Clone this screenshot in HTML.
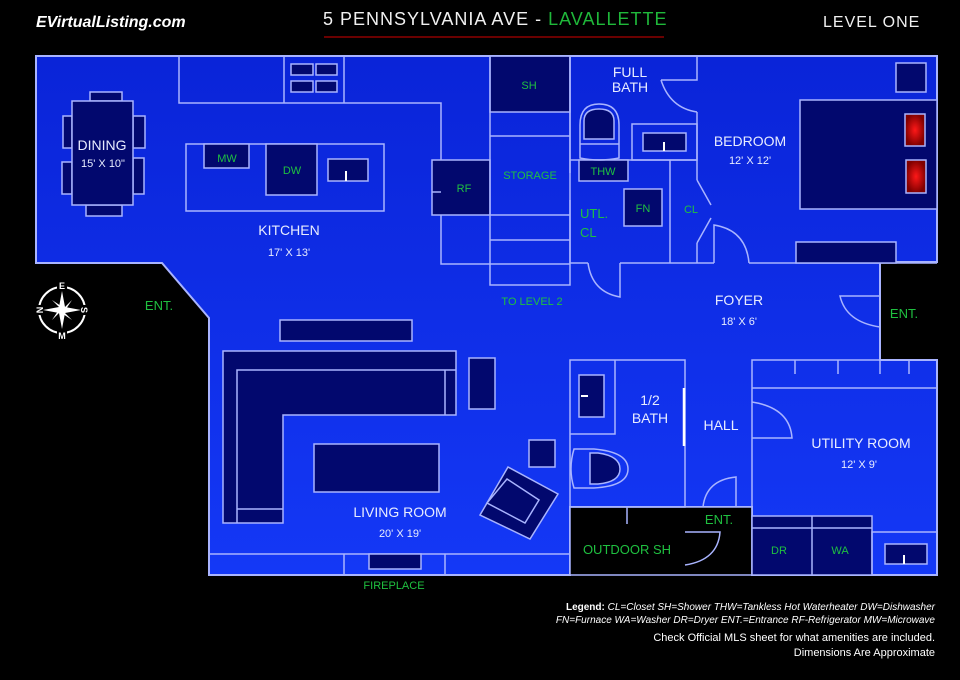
<!DOCTYPE html>
<html><head><meta charset="utf-8"><style>
html,body{margin:0;padding:0;background:#000;}
svg{display:block;}
text{font-family:"Liberation Sans",sans-serif;}
.w{fill:#e8ecff;font-size:14px;}
.ws{fill:#e8ecff;font-size:11px;}
.g{fill:#1fc040;font-size:13px;}
.gs{fill:#1fc040;font-size:11px;}
</style></head><body>
<svg width="960" height="680" viewBox="0 0 960 680" xmlns="http://www.w3.org/2000/svg">
<defs>
<linearGradient id="bg" x1="0" y1="0" x2="0" y2="1">
<stop offset="0" stop-color="#0a24d8"/><stop offset="1" stop-color="#1438f6"/>
</linearGradient>
<radialGradient id="red"><stop offset="0" stop-color="#ff1818"/><stop offset="1" stop-color="#800000"/></radialGradient>
</defs>
<rect width="960" height="680" fill="#000"/>
<!-- header -->
<text x="36" y="27" fill="#fff" font-size="16" font-weight="bold" font-style="italic">EVirtualListing.com</text>
<text x="323" y="25" fill="#f0f0f0" font-size="18" letter-spacing="1">5 PENNSYLVANIA AVE - <tspan fill="#1fb83a">LAVALLETTE</tspan></text>
<line x1="324" y1="37" x2="664" y2="37" stroke="#6a0000" stroke-width="2"/>
<text x="823" y="27" fill="#f0f0f0" font-size="16" letter-spacing="1">LEVEL ONE</text>

<!-- floor -->
<path d="M36,56 H937 V262 H880 V360 H937 V575 H752 V507 H570 V575 H209 V318 L162,263 H36 Z" fill="url(#bg)" stroke="#a9b4ff" stroke-width="2"/>
<rect x="570" y="507" width="182" height="68" fill="#000" stroke="#a9b4ff" stroke-width="1.5"/>

<g stroke="#a9b4ff" stroke-width="1.5" fill="none">
<path d="M179,56 V103 H441 V264 H490"/>
<line x1="284" y1="56" x2="284" y2="103"/><line x1="344" y1="56" x2="344" y2="103"/>
<g fill="#02086e">
<rect x="291" y="64" width="22" height="11"/><rect x="316" y="64" width="21" height="11"/>
<rect x="291" y="81" width="22" height="11"/><rect x="316" y="81" width="21" height="11"/>
<rect x="90" y="92" width="32" height="9"/><rect x="86" y="205" width="36" height="11"/>
<rect x="63" y="116" width="9" height="32"/><rect x="62" y="162" width="10" height="32"/>
<rect x="133" y="116" width="12" height="32"/><rect x="133" y="158" width="11" height="36"/>
<rect x="72" y="101" width="61" height="104"/>
</g>
<rect x="186" y="144" width="198" height="67"/>
<g fill="#02086e">
<rect x="204" y="144" width="45" height="24"/>
<rect x="266" y="144" width="51" height="51"/>
<rect x="328" y="159" width="40" height="22"/>
<rect x="432" y="160" width="58" height="55"/>
<rect x="490" y="56" width="80" height="56"/>
</g>
<rect x="490" y="56" width="80" height="229"/>
<line x1="490" y1="136" x2="570" y2="136"/><line x1="490" y1="215" x2="570" y2="215"/>
<line x1="490" y1="240" x2="570" y2="240"/><line x1="490" y1="264" x2="570" y2="264"/>
<line x1="432" y1="192" x2="441" y2="192"/>
<path d="M570,56 V173 M570,200 V263 H588 M620,263 H714 M749,263 H937"/>
<path d="M697,56 V80 H661 M697,112 V180 M697,243 V263"/>
<path d="M661,80 Q670,108 697,112"/>
<path d="M697,180 L711,205 M697,243 L711,218"/>
<path d="M570,160 H697"/>
<line x1="670" y1="160" x2="670" y2="263"/>
<rect x="632" y="124" width="65" height="36"/>
<rect x="643" y="133" width="43" height="18" fill="#02086e"/>
<rect x="579" y="160" width="49" height="21" fill="#02086e"/>
<rect x="624" y="189" width="38" height="37" fill="#02086e"/>
<path d="M580,158 V125 Q580,104 599,104 Q619,104 619,125 V158 Q599,162 580,158 Z"/>
<path d="M584,139 V121 Q584,109 599,109 Q614,109 614,121 V139 Z" fill="#02086e"/>
<line x1="580" y1="144" x2="619" y2="144"/>
<path d="M620,263 V297 Q592,292 588,263"/>
<path d="M714,263 V225 Q746,230 749,263"/>
<path d="M880,296 H840 Q846,322 880,327"/>
<rect x="896" y="63" width="30" height="29" fill="#02086e"/>
<rect x="800" y="100" width="137" height="109" fill="#02086e"/>
<rect x="796" y="242" width="100" height="21" fill="#02086e"/>
<rect x="905" y="114" width="20" height="32" fill="url(#red)"/>
<rect x="906" y="160" width="20" height="33" fill="url(#red)"/>
<rect x="280" y="320" width="132" height="21" fill="#02086e"/>
<path d="M223,351 H456 V415 H283 V523 H223 Z" fill="#02086e"/>
<path d="M456,370 H237 V523 M237,509 H283 M445,370 V415"/>
<rect x="469" y="358" width="26" height="51" fill="#02086e"/>
<rect x="314" y="444" width="125" height="48" fill="#02086e"/>
<rect x="529" y="440" width="26" height="27" fill="#02086e"/>
<path d="M480,515 L508,467 L558,494 L530,539 Z" fill="#02086e"/>
<path d="M487,503 L507,479 L539,500 L525,523 Z"/>
<path d="M209,554 H570 M344,554 V575 M445,554 V575"/>
<rect x="369" y="554" width="52" height="15" fill="#02086e"/>
<rect x="570" y="360" width="115" height="147"/>
<path d="M570,434 H615 V360"/>
<rect x="579" y="375" width="25" height="42" fill="#02086e"/>
<path d="M574,449 H594 Q628,452 628,469 Q628,486 594,488 H574 Q568,469 574,449 Z"/>
<path d="M590,453 H598 Q620,456 620,469 Q620,482 598,484 H590 Z" fill="#02086e"/>
<line x1="627" y1="507" x2="627" y2="524"/>
<path d="M703,507 Q706,480 736,477 V507"/>
<path d="M685,532 H720 Q718,560 685,565"/>
<rect x="752" y="360" width="185" height="215"/>
<line x1="752" y1="388" x2="937" y2="388"/>
<path d="M795,360 V374 M838,360 V374 M880,360 V374 M909,360 V374"/>
<path d="M752,402 Q790,408 792,438 H752"/>
<rect x="752" y="516" width="120" height="59" fill="#02086e"/>
<line x1="752" y1="528" x2="872" y2="528"/><line x1="812" y1="516" x2="812" y2="575"/>
<rect x="872" y="532" width="65" height="43"/>
<rect x="885" y="544" width="42" height="20" fill="#02086e"/>
</g>
<g stroke="#fff" stroke-width="2">
<line x1="346" y1="171" x2="346" y2="181"/><line x1="664" y1="142" x2="664" y2="151"/>
<line x1="581" y1="396" x2="588" y2="396"/><line x1="684" y1="388" x2="684" y2="446" stroke-width="2.5"/>
<line x1="904" y1="555" x2="904" y2="564"/>
</g>

<!-- compass -->
<g transform="translate(62,310)" fill="#fff">
<circle r="23" fill="none" stroke="#fff" stroke-width="2"/>
<path d="M0,-19 L3,-3 L19,0 L3,3 L0,19 L-3,3 L-19,0 L-3,-3 Z"/>
<path d="M-10,-10 L2,-2 L10,-10 L2,2 L10,10 L-2,2 L-10,10 L-2,-2 Z"/>
<rect x="-5" y="-30" width="10" height="9" fill="#000"/>
<rect x="-5" y="21" width="10" height="9" fill="#000"/>
<rect x="-30" y="-5" width="9" height="10" fill="#000"/>
<rect x="21" y="-5" width="9" height="10" fill="#000"/>
<text x="0" y="-21" font-size="9" font-weight="bold" text-anchor="middle" fill="#fff">E</text>
<text x="0" y="29" font-size="9" font-weight="bold" text-anchor="middle" fill="#fff">M</text>
<text transform="translate(-22,0) rotate(-90)" x="0" y="3" font-size="9" font-weight="bold" text-anchor="middle" fill="#fff">N</text>
<text transform="translate(22,0) rotate(90)" x="0" y="3" font-size="9" font-weight="bold" text-anchor="middle" fill="#fff">S</text>
</g>

<!-- labels -->
<text class="w" x="102" y="150" text-anchor="middle" font-size="13">DINING</text>
<text class="ws" x="103" y="167" text-anchor="middle">15' X 10"</text>
<text class="gs" x="227" y="162" text-anchor="middle" font-size="12">MW</text>
<text class="gs" x="292" y="174" text-anchor="middle" font-size="12">DW</text>
<text class="gs" x="464" y="192" text-anchor="middle" font-size="12">RF</text>
<text class="w" x="289" y="235" text-anchor="middle">KITCHEN</text>
<text class="ws" x="289" y="256" text-anchor="middle">17' X 13'</text>
<text class="g" x="159" y="310" text-anchor="middle">ENT.</text>
<text class="gs" x="529" y="89" text-anchor="middle" font-size="12">SH</text>
<text class="gs" x="530" y="179" text-anchor="middle">STORAGE</text>
<text class="gs" x="603" y="175" text-anchor="middle">THW</text>
<text class="gs" x="643" y="212" text-anchor="middle">FN</text>
<text class="g" x="580" y="218">UTL.</text>
<text class="g" x="580" y="237">CL</text>
<text class="gs" x="691" y="213" text-anchor="middle" font-size="12">CL</text>
<text class="w" x="630" y="77" text-anchor="middle" font-size="13">FULL</text>
<text class="w" x="630" y="92" text-anchor="middle" font-size="13">BATH</text>
<text class="w" x="750" y="146" text-anchor="middle">BEDROOM</text>
<text class="ws" x="750" y="164" text-anchor="middle">12' X 12'</text>
<text class="gs" x="532" y="305" text-anchor="middle">TO LEVEL 2</text>
<text class="w" x="739" y="305" text-anchor="middle">FOYER</text>
<text class="ws" x="739" y="325" text-anchor="middle">18' X 6'</text>
<text class="g" x="904" y="318" text-anchor="middle">ENT.</text>
<text class="w" x="650" y="405" text-anchor="middle">1/2</text>
<text class="w" x="650" y="423" text-anchor="middle">BATH</text>
<text class="w" x="721" y="430" text-anchor="middle">HALL</text>
<text class="w" x="861" y="448" text-anchor="middle">UTILITY ROOM</text>
<text class="ws" x="859" y="468" text-anchor="middle">12' X 9'</text>
<text class="w" x="400" y="517" text-anchor="middle">LIVING ROOM</text>
<text class="ws" x="400" y="537" text-anchor="middle">20' X 19'</text>
<text class="g" x="627" y="554" text-anchor="middle">OUTDOOR SH</text>
<text class="g" x="719" y="524" text-anchor="middle">ENT.</text>
<text class="gs" x="779" y="554" text-anchor="middle" font-size="12">DR</text>
<text class="gs" x="840" y="554" text-anchor="middle" font-size="12">WA</text>
<text class="gs" x="394" y="589" text-anchor="middle">FIREPLACE</text>

<!-- legend -->
<g font-size="10" fill="#fff" text-anchor="end" font-style="italic">
<text x="935" y="610"><tspan font-weight="bold" font-style="normal">Legend:</tspan> CL=Closet  SH=Shower  THW=Tankless Hot Waterheater DW=Dishwasher</text>
<text x="935" y="623">FN=Furnace WA=Washer DR=Dryer  ENT.=Entrance RF-Refrigerator MW=Microwave</text>
</g>
<text x="935" y="641" font-size="11" fill="#fff" text-anchor="end">Check Official MLS sheet for what amenities are included.</text>
<text x="935" y="656" font-size="11" fill="#fff" text-anchor="end">Dimensions Are Approximate</text>
</svg>
</body></html>
